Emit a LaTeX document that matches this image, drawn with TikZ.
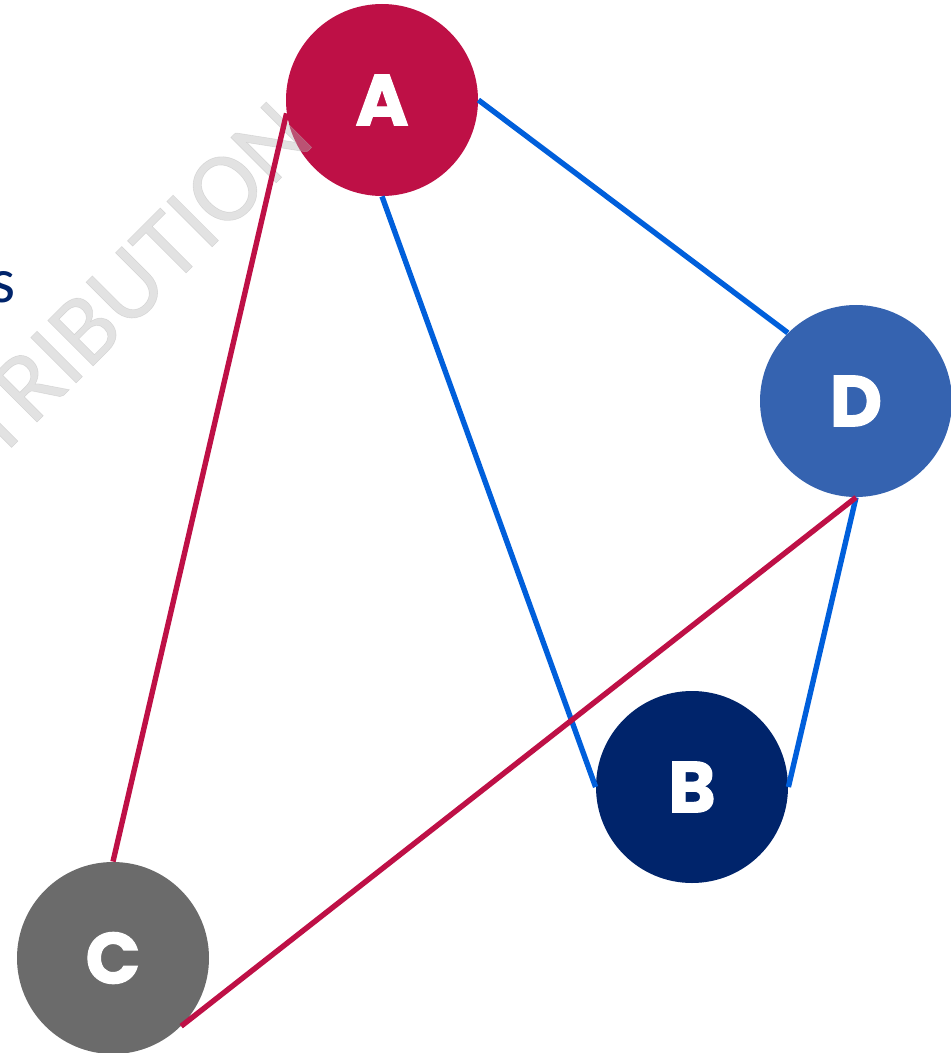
\documentclass[tikz,border=0pt]{standalone}
\usepackage{fontspec}
\setmainfont{Carlito}
\newfontfamily\labfont{Poppins}[BoldFeatures={FakeBold=1.6}]
\newfontfamily\wmfont{Carlito}[FakeBold=0.6]
\definecolor{cA}{HTML}{BE1046}
\definecolor{cB}{HTML}{00246B}
\definecolor{cC}{HTML}{6B6B6B}
\definecolor{cD}{HTML}{3563B0}
\definecolor{cblue}{HTML}{005FDB}
\definecolor{cwm}{HTML}{B7B7B7}
\tikzset{
  vtx/.style={circle, minimum size=96pt, inner sep=0pt, text=white,
    font=\labfont\bfseries\fontsize{36}{36}\selectfont},
  blueedge/.style={draw=cblue, line width=2.7pt},
  rededge/.style={draw=cA, line width=2.7pt},
  wmark/.style={text=cwm, opacity=0.4, rotate=45, anchor=base east, inner sep=0pt,
    font=\wmfont\fontsize{50}{50}\selectfont},
  sidetext/.style={text=cB, anchor=base east, inner sep=0pt,
    font=\fontsize{32}{32}\selectfont}
}
\begin{document}
\begin{tikzpicture}[x=0.5pt,y=-0.5pt]
\useasboundingbox (0,0) rectangle (951,1053);
\clip (0,0) rectangle (951,1053);
\node[vtx, fill=cA] (A) at (382,100) {A};
\node[vtx, fill=cD] (D) at (856,401) {D};
\node[vtx, fill=cB] (B) at (692,787) {B};
\node[vtx, fill=cC] (C) at (113,958) {C};
\node[sidetext] (s) at (16,303) {s};
\node[wmark] (wm) at (317,142) {DISTRIBUTION};
\draw[blueedge] (A.east) -- (D.north west);
\draw[blueedge] (A.south) -- (B.west);
\draw[blueedge] (D.south) -- (B.east);
\draw[rededge] (A.188) -- (C.north);
\draw[rededge] (D.south) -- (C.south east);
\end{tikzpicture}
\end{document}
